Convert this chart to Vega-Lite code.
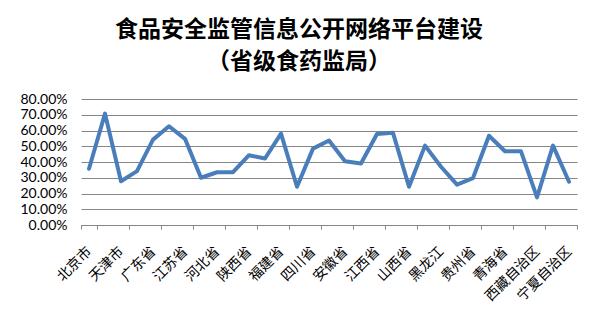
{
  "$schema": "https://vega.github.io/schema/vega-lite/v6.json",
  "autosize": {"type": "none"},
  "padding": {"left": 81, "top": 99, "right": 22, "bottom": 96},
  "width": 496,
  "height": 126,
  "background": "white",
  "title": {
    "text": ["食品安全监管信息公开网络平台建设", "（省级食药监局）"],
    "font": "Noto Sans CJK SC",
    "fontSize": 23,
    "fontWeight": "bold",
    "lineHeight": 32,
    "color": "#000000",
    "anchor": "middle",
    "offset": 18,
    "dx": -30
  },
  "data": {
    "values": [
      {"province": "北京市", "rate": 0.357},
      {"province": "上海市", "rate": 0.707},
      {"province": "天津市", "rate": 0.278},
      {"province": "重庆市", "rate": 0.342},
      {"province": "广东省", "rate": 0.542},
      {"province": "浙江省", "rate": 0.627},
      {"province": "江苏省", "rate": 0.547},
      {"province": "山东省", "rate": 0.300},
      {"province": "河北省", "rate": 0.335},
      {"province": "河南省", "rate": 0.335},
      {"province": "陕西省", "rate": 0.443},
      {"province": "湖北省", "rate": 0.422},
      {"province": "福建省", "rate": 0.580},
      {"province": "湖南省", "rate": 0.243},
      {"province": "四川省", "rate": 0.485},
      {"province": "辽宁省", "rate": 0.536},
      {"province": "安徽省", "rate": 0.405},
      {"province": "吉林省", "rate": 0.390},
      {"province": "江西省", "rate": 0.578},
      {"province": "海南省", "rate": 0.585},
      {"province": "山西省", "rate": 0.243},
      {"province": "云南省", "rate": 0.504},
      {"province": "黑龙江", "rate": 0.370},
      {"province": "甘肃省", "rate": 0.256},
      {"province": "贵州省", "rate": 0.298},
      {"province": "广西自治区", "rate": 0.567},
      {"province": "青海省", "rate": 0.468},
      {"province": "内蒙古自治区", "rate": 0.468},
      {"province": "西藏自治区", "rate": 0.175},
      {"province": "新疆自治区", "rate": 0.504},
      {"province": "宁夏自治区", "rate": 0.275}
    ]
  },
  "mark": {"type": "line", "color": "#4A7EBB", "strokeWidth": 4, "strokeJoin": "round", "strokeCap": "round"},
  "encoding": {
    "x": {
      "field": "province",
      "type": "nominal",
      "sort": null,
      "scale": {"paddingInner": 0, "paddingOuter": 0},
      "axis": {
        "title": null,
        "values": ["北京市", "天津市", "广东省", "江苏省", "河北省", "陕西省", "福建省", "四川省", "安徽省", "江西省", "山西省", "黑龙江", "贵州省", "青海省", "西藏自治区", "宁夏自治区"],
        "labelAngle": -45,
        "labelAlign": "right",
        "labelBaseline": "middle",
        "labelPadding": 20,
        "labelFont": "Noto Sans CJK SC",
        "labelFontSize": 14,
        "labelColor": "#000000",
        "domainColor": "#868686",
        "tickColor": "#868686",
        "tickSize": 4,
        "tickBand": "extent",
        "grid": false
      }
    },
    "y": {
      "field": "rate",
      "type": "quantitative",
      "scale": {"domain": [0, 0.8], "nice": false},
      "axis": {
        "title": null,
        "format": ".2%",
        "values": [0, 0.1, 0.2, 0.3, 0.4, 0.5, 0.6, 0.7, 0.8],
        "labelFont": "Lato",
        "labelFontSize": 14,
        "labelColor": "#000000",
        "labelPadding": 14,
        "ticks": false,
        "domain": false,
        "grid": true,
        "gridColor": "#868686",
        "gridOpacity": 1
      }
    }
  },
  "config": {"view": {"stroke": null}}
}
